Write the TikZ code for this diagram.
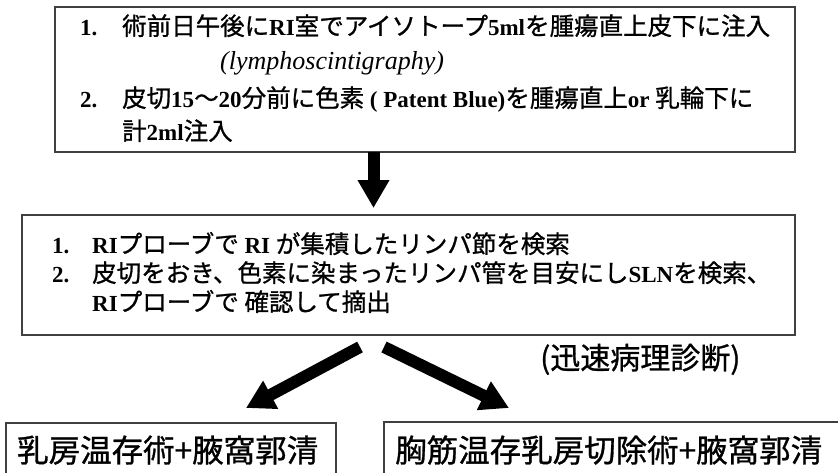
\documentclass[tikz,border=0pt]{standalone}
\usepackage{fontspec}
\setmainfont{Liberation Serif}
\newfontfamily\jp{Noto Sans CJK JP}[FakeBold=0.9]
\usetikzlibrary{arrows.meta}
\newcommand\J[1]{{\fontsize{24.5}{28}\selectfont\jp #1}}
\newcommand\B[1]{\textbf{#1}}
\begin{document}
\begin{tikzpicture}[x=1pt,y=-1pt,
  frame/.style={draw=black!75, line width=1.4pt, inner sep=0pt, outer sep=0pt},
  txt/.style={anchor=base west, inner sep=0pt, font=\fontsize{23}{28}\selectfont},
  num/.style={anchor=base west, inner sep=0pt, font=\fontsize{23}{28}\selectfont\bfseries},
  bigtxt/.style={anchor=base west, inner sep=0pt, font=\fontsize{31.5}{36}\selectfont\jp},
  fat/.style={line width=12pt, -{Triangle[length=28pt,width=30pt]}}]
\clip (0,0) rectangle (838,472);
\fill[white] (0,0) rectangle (838,472);
% boxes
\node[frame, minimum width=740pt, minimum height=145pt, anchor=north west] (box1) at (55,7) {};
\node[frame, minimum width=773pt, minimum height=120pt, anchor=north west] (box2) at (22,215) {};
\node[frame, minimum width=330pt, minimum height=80pt, anchor=north west] (res1) at (6,423) {};
\node[frame, minimum width=480pt, minimum height=80pt, anchor=north west] (res2) at (384,422) {};
% box 1 text
\node[num] (n11) at (80,35) {1.};
\node[txt] (t11) at (122,35) {\J{術前日午後に}\B{RI}\J{室でアイソトープ}\B{5ml}\J{を腫瘍直上皮下に注入}};
\node[txt, font=\fontsize{26}{28}\selectfont\itshape] (t12) at (220,69) {(lymphoscintigraphy)};
\node[num] (n12) at (80,107) {2.};
\node[txt] (t13) at (122,107) {\J{皮切}\B{15}\J{～}\B{20}\J{分前に色素}\B{ ( Patent Blue)}\J{を腫瘍直上}\B{or} \J{乳輪下に}};
\node[txt] (t14) at (122,140) {\J{計}\B{2ml}\J{注入}};
% box 2 text
\node[num] (n21) at (52,253) {1.};
\node[txt] (t21) at (92,253) {\B{RI}\J{プローブで} \B{RI} \J{が集積したリンパ節を検索}};
\node[num] (n22) at (52,282) {2.};
\node[txt] (t22) at (92,282) {\J{皮切をおき、色素に染まったリンパ管を目安にし}\B{SLN}\J{を検索、}};
\node[txt] (t23) at (92,311) {\B{RI}\J{プローブで} \J{確認して摘出}};
% label and results
\node[bigtxt, font=\fontsize{30}{34}\selectfont\jp] (lab) at (540,369) {(迅速病理診断)};
\node[bigtxt] (r1t) at (17,462) {乳房温存術+腋窩郭清};
\node[bigtxt] (r2t) at (395,462) {胸筋温存乳房切除術+腋窩郭清};
% arrows
\coordinate (d2) at (373.5,208);
\coordinate (l1) at (360,347);
\coordinate (l2) at (246,408);
\coordinate (r1) at (384,347);
\coordinate (r2) at (509,408);
\draw[fat] (box1.south -| d2) -- (d2);
\draw[fat] (l1) -- (l2);
\draw[fat] (r1) -- (r2);
\end{tikzpicture}
\end{document}
